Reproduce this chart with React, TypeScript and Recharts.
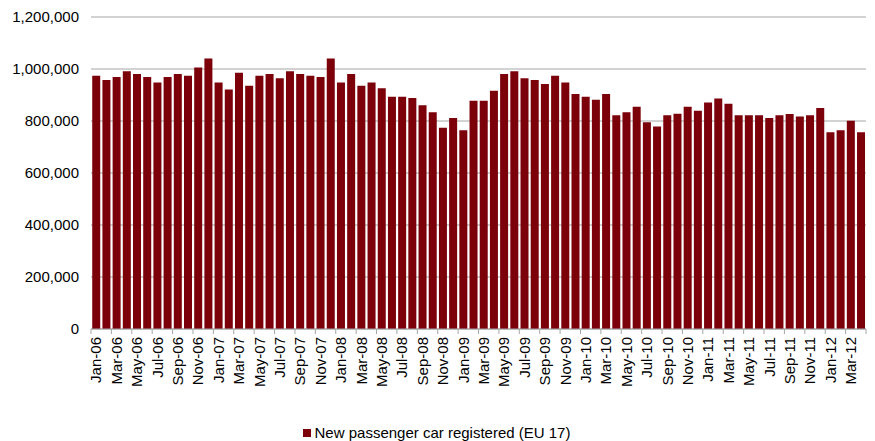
import React from "react";
import { BarChart, Bar, XAxis, YAxis, CartesianGrid, Legend } from "recharts";

const categories = [
  "Jan-06","Feb-06","Mar-06","Apr-06","May-06","Jun-06","Jul-06","Aug-06","Sep-06","Oct-06","Nov-06","Dec-06",
  "Jan-07","Feb-07","Mar-07","Apr-07","May-07","Jun-07","Jul-07","Aug-07","Sep-07","Oct-07","Nov-07","Dec-07",
  "Jan-08","Feb-08","Mar-08","Apr-08","May-08","Jun-08","Jul-08","Aug-08","Sep-08","Oct-08","Nov-08","Dec-08",
  "Jan-09","Feb-09","Mar-09","Apr-09","May-09","Jun-09","Jul-09","Aug-09","Sep-09","Oct-09","Nov-09","Dec-09",
  "Jan-10","Feb-10","Mar-10","Apr-10","May-10","Jun-10","Jul-10","Aug-10","Sep-10","Oct-10","Nov-10","Dec-10",
  "Jan-11","Feb-11","Mar-11","Apr-11","May-11","Jun-11","Jul-11","Aug-11","Sep-11","Oct-11","Nov-11","Dec-11",
  "Jan-12","Feb-12","Mar-12","Apr-12",
];

const registrations = [
  974000, 958000, 969000, 991000, 981000, 969000, 948000, 969000, 981000, 974000, 1006000, 1040000,
  948000, 921000, 986000, 936000, 974000, 981000, 964000, 991000, 981000, 974000, 969000, 1040000,
  948000, 981000, 936000, 948000, 926000, 893000, 893000, 888000, 861000, 834000, 774000, 812000,
  764000, 878000, 878000, 916000, 981000, 991000, 964000, 958000, 942000, 974000, 948000, 904000,
  893000, 882000, 904000, 822000, 834000, 855000, 795000, 779000, 822000, 828000, 855000, 839000,
  871000, 887000, 866000, 822000, 822000, 822000, 812000, 822000, 827000, 817000, 822000, 850000,
  757000, 764000, 801000, 757000,
];

const yTicks = [0, 200000, 400000, 600000, 800000, 1000000, 1200000];
const seriesName = "New passenger car registered (EU 17)";

const data = categories.map((c, i) => ({ month: c, value: registrations[i] }));

const FONT = "'Liberation Sans', Arial, sans-serif";
const BAR_COLOR = "#7B000A";
const GRID = "#A6A6A6";

const fmt = (v: number) => v.toLocaleString("en-US");

const XTick = (props: any) => {
  const { x, y, payload, index, width } = props;
  const bw = width / categories.length;
  const axisY = y - 8;
  const lx = x - bw / 2;
  const isLast = index === Math.floor((categories.length - 1) / 2);
  return (
    <g>
      <line x1={lx} y1={axisY} x2={lx} y2={axisY + 5} stroke={GRID} strokeWidth={1} />
      {isLast && (
        <line x1={x + 1.5 * bw} y1={axisY} x2={x + 1.5 * bw} y2={axisY + 5} stroke={GRID} strokeWidth={1} />
      )}
      <text
        x={x}
        y={y}
        dy="0.36em"
        textAnchor="end"
        transform={`rotate(-90, ${x}, ${y})`}
        fill="#000"
        fontSize={15}
        fontFamily={FONT}
      >
        {payload.value}
      </text>
    </g>
  );
};

const LegendContent = () => (
  <div
    style={{
      display: "flex",
      justifyContent: "center",
      alignItems: "center",
      fontFamily: FONT,
      fontSize: 15,
      color: "#000",
      paddingLeft: 7,
    }}
  >
    <span style={{ display: "inline-block", width: 8, height: 8, background: BAR_COLOR, marginRight: 4 }} />
    <span>{seriesName}</span>
  </div>
);

export default function App() {
  return (
    <div style={{ position: "absolute", left: 0, top: 0, width: 875, height: 441, background: "#fff" }}>
      <BarChart
        width={875}
        height={441}
        data={data}
        margin={{ top: 17, right: 9, left: 0, bottom: 2 }}
        barCategoryGap="12%"
      >
        <CartesianGrid vertical={false} stroke={GRID} strokeWidth={1} />
        <YAxis
          width={91}
          domain={[0, 1200000]}
          ticks={yTicks}
          tickFormatter={fmt}
          axisLine={false}
          tickLine={false}
          tickSize={0}
          tickMargin={12}
          tick={{ fill: "#000", fontSize: 15, fontFamily: FONT }}
          interval={0}
        />
        <XAxis
          dataKey="month"
          height={95}
          interval={1}
          tick={<XTick />}
          tickLine={false}
          tickSize={0}
          tickMargin={8}
          axisLine={{ stroke: GRID, strokeWidth: 1 }}
        />
        <Legend verticalAlign="bottom" height={15} content={<LegendContent />} />
        <Bar dataKey="value" name={seriesName} fill={BAR_COLOR} isAnimationActive={false} />
      </BarChart>
    </div>
  );
}
